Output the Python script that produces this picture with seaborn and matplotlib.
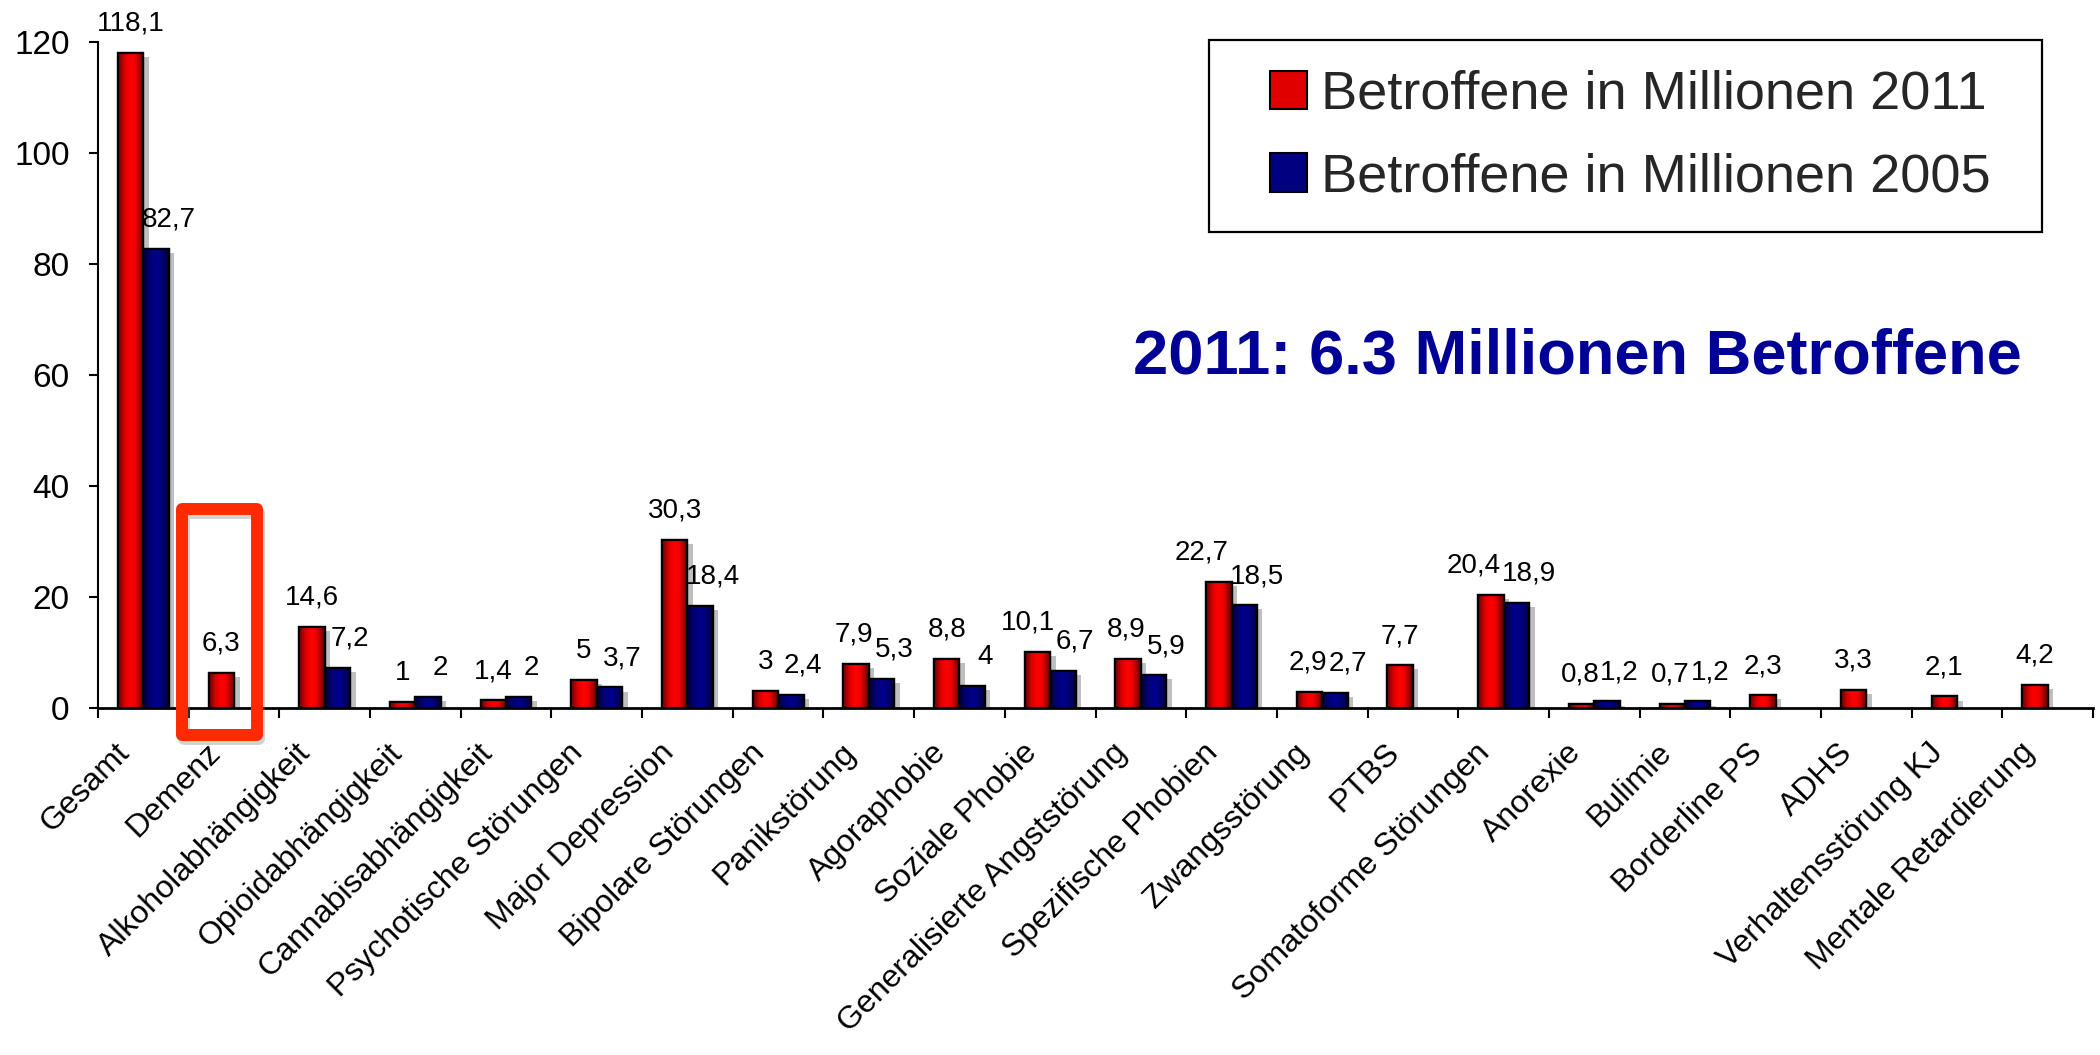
import numpy as np
import pandas as pd
import matplotlib
matplotlib.use("Agg")
import matplotlib.pyplot as plt
import matplotlib.patheffects as pe
import matplotlib.transforms as mtransforms
from matplotlib.colors import LinearSegmentedColormap
from matplotlib.patches import Patch, PathPatch, Rectangle
import seaborn as sns

# ---------------- data ----------------
categories = [
    "Gesamt", "Demenz", "Alkoholabhängigkeit", "Opioidabhängigkeit",
    "Cannabisabhängigkeit", "Psychotische Störungen", "Major Depression",
    "Bipolare Störungen", "Panikstörung", "Agoraphobie", "Soziale Phobie",
    "Generalisierte Angststörung", "Spezifische Phobien", "Zwangsstörung",
    "PTBS", "Somatoforme Störungen", "Anorexie", "Bulimie", "Borderline PS",
    "ADHS", "Verhaltensstörung KJ", "Mentale Retardierung",
]
values_2011 = [118.1, 6.3, 14.6, 1, 1.4, 5, 30.3, 3, 7.9, 8.8, 10.1, 8.9,
               22.7, 2.9, 7.7, 20.4, 0.8, 0.7, 2.3, 3.3, 2.1, 4.2]
values_2005 = [82.7, np.nan, 7.2, 2, 2, 3.7, 18.4, 2.4, 5.3, 4, 6.7, 5.9,
               18.5, 2.7, np.nan, 18.9, 1.2, 1.2, np.nan, np.nan, np.nan, np.nan]
series_labels = ["Betroffene in Millionen 2011", "Betroffene in Millionen 2005"]
y_ticks = [0, 20, 40, 60, 80, 100, 120]
highlight_category = "Demenz"
annotation_text = "2011: 6.3 Millionen Betroffene"

# ---------------- styling ----------------
FONT = "Liberation Sans"
RED = "#e00000"
BLUE = "#000080"
ANNOT_BLUE = "#000096"
DPI = 100

sns.set_theme(style="white")
plt.rcParams["font.family"] = [FONT, "DejaVu Sans"]

rows = []
for c, v in zip(categories, values_2011):
    if not np.isnan(v):
        rows.append({"Kategorie": c, "Wert": v, "Serie": series_labels[0]})
for c, v in zip(categories, values_2005):
    if not np.isnan(v):
        rows.append({"Kategorie": c, "Wert": v, "Serie": series_labels[1]})
df = pd.DataFrame(rows)

fig = plt.figure(figsize=(21, 10.55), dpi=DPI)
fig.patch.set_facecolor("white")
ax = fig.add_axes([98 / 2100, 1 - 708 / 1055, (2093 - 98) / 2100, (708 - 42) / 1055])
ax.set_facecolor("white")

sns.barplot(
    data=df, x="Kategorie", y="Wert", hue="Serie",
    order=categories, hue_order=series_labels,
    palette=[RED, BLUE], saturation=1, width=0.56, dodge=True,
    edgecolor="black", linewidth=1.6, legend=False, ax=ax,
)

# gradients + shadows on bars
red_cmap = LinearSegmentedColormap.from_list(
    "redgrad", [(0.0, (0.42, 0, 0)), (0.25, (0.85, 0, 0)), (0.45, (1, 0, 0)),
                (0.65, (0.95, 0, 0)), (1.0, (0.40, 0, 0))])
blue_cmap = LinearSegmentedColormap.from_list(
    "bluegrad", [(0.0, (0, 0, 0.22)), (0.3, (0, 0, 0.48)), (0.5, (0, 0, 0.55)),
                 (0.7, (0, 0, 0.48)), (1.0, (0, 0, 0.22))])
grad = np.linspace(0, 1, 64).reshape(1, -1)

labels_by_series = []
for cont, cmap, dx in zip(ax.containers, [red_cmap, blue_cmap], [0, 9]):
    lab = {}
    for bar in cont:
        h = bar.get_height()
        if not np.isfinite(h) or h <= 0:
            continue
        x0 = bar.get_x()
        w = bar.get_width()
        bar.set_path_effects([
            pe.SimplePatchShadow(offset=(4, -3), shadow_rgbFace="#b8b8b8", alpha=0.9),
            pe.Normal(),
        ])
        bar.set_zorder(2)
        im = ax.imshow(grad, cmap=cmap, extent=[x0, x0 + w, 0, h],
                       aspect="auto", interpolation="bilinear", zorder=2.2)
        im.set_clip_path(bar)
        edge = PathPatch(bar.get_path(), transform=bar.get_transform(),
                         fill=False, edgecolor="black", linewidth=1.6, zorder=2.4)
        ax.add_patch(edge)
        lbl = f"{h:g}".replace(".", ",")
        t = ax.annotate(lbl, xy=(x0 + w / 2, h), xytext=(dx, 21),
                        textcoords="offset points", ha="center", va="center",
                        fontsize=20, color="black", annotation_clip=False, zorder=5)
        lab[int(round(x0 + w))] = t  # key: category index (bars meet at centre)
        lab[int(round(x0))] = t
    labels_by_series.append(lab)

ax.set_xlim(-0.5, len(categories) - 0.5)
ax.set_ylim(0, 120)

# axes / ticks
for s in ["top", "right"]:
    ax.spines[s].set_visible(False)
ax.spines["left"].set_color("black")
ax.spines["left"].set_linewidth(1.5)
ax.spines["bottom"].set_color("black")
ax.spines["bottom"].set_linewidth(2)

ax.set_yticks(y_ticks)
ax.set_yticklabels([str(t) for t in y_ticks], fontsize=24, color="black")
ax.tick_params(axis="y", which="major", direction="out", length=6.5, width=1.5,
               pad=14, left=True, color="black")

ax.set_xticks(range(len(categories)))
ax.set_xticklabels(categories, rotation=45, ha="right", va="center",
                   rotation_mode="anchor", fontsize=23, color="black")
ax.tick_params(axis="x", which="major", length=0, pad=29)
shift = mtransforms.ScaledTranslation(-13 / 72, 0, fig.dpi_scale_trans)
for tl in ax.get_xticklabels():
    tl.set_transform(tl.get_transform() + shift)
ax.set_xticks(np.arange(-0.5, len(categories), 1.0), minor=True)
ax.tick_params(axis="x", which="minor", direction="out", length=7.5, width=1.5,
               bottom=True, color="black")
ax.set_xlabel("")
ax.set_ylabel("")
ax.grid(False)

# highlight box around Demenz
hi = categories.index(highlight_category)
rect = Rectangle((hi - 0.577, -4.86), 0.827, 40.76, fill=False,
                 edgecolor="#ff2a00", linewidth=8.6, joinstyle="round",
                 clip_on=False, zorder=6)
rect.set_path_effects([pe.SimpleLineShadow(offset=(2, -3), shadow_color="gray", alpha=0.35),
                       pe.Normal()])
ax.add_patch(rect)

# annotation text
fig.text(1577 / 2100, 1 - 357 / 1055, annotation_text, ha="center", va="center",
         fontsize=45.5, fontweight="bold", color=ANNOT_BLUE, family=FONT)

# legend
handles = [Patch(facecolor=RED, edgecolor="black", linewidth=1.5),
           Patch(facecolor=BLUE, edgecolor="black", linewidth=1.5)]
leg = fig.legend(handles, series_labels, loc="center",
                 bbox_to_anchor=(1630 / 2100, 1 - 136 / 1055),
                 frameon=False, fontsize=39, handlelength=0.68, handleheight=0.72,
                 handletextpad=0.26, labelspacing=0.6, borderpad=0)
frame = Rectangle((1209 / 2100, 1 - 232 / 1055), (2042 - 1209) / 2100, (232 - 40) / 1055,
                  transform=fig.transFigure, fill=False, edgecolor="black",
                  linewidth=1.6, zorder=1)
fig.patches.append(frame)

# avoid overlapping value labels within a category: nudge the 2011 label left
fig.canvas.draw()
renderer = fig.canvas.get_renderer()
red_labels, blue_labels = labels_by_series
for i in range(len(categories)):
    r = red_labels.get(i)
    b = blue_labels.get(i)
    if r is None or b is None:
        continue
    rb = r.get_window_extent(renderer)
    bb = b.get_window_extent(renderer)
    overlap_x = rb.x1 - bb.x0
    overlap_y = min(rb.y1, bb.y1) - max(rb.y0, bb.y0)
    if overlap_x > 0 and overlap_y > 0:
        ox, oy = r.xyann
        r.xyann = (ox - (overlap_x + 1) * 72 / DPI, oy)

fig.savefig("out.png", dpi=DPI, facecolor="white")
